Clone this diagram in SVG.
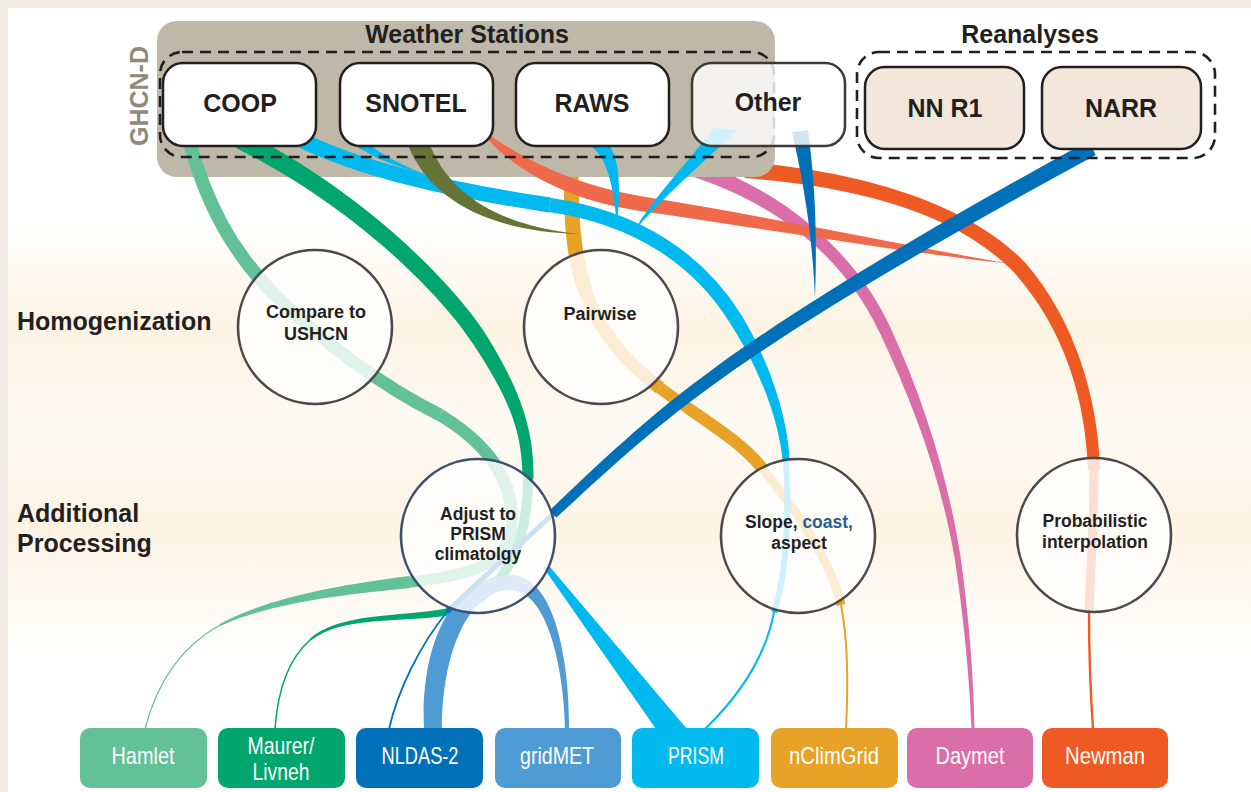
<svg xmlns="http://www.w3.org/2000/svg" width="1251" height="792" viewBox="0 0 1251 792">
<defs>
<linearGradient id="bg" gradientUnits="userSpaceOnUse" x1="0" y1="0" x2="0" y2="792">
<stop offset="0" stop-color="#ffffff"/>
<stop offset="0.28" stop-color="#ffffff"/>
<stop offset="0.415" stop-color="#fdf3e3"/>
<stop offset="0.545" stop-color="#fefaf4"/>
<stop offset="0.665" stop-color="#fdf3e3"/>
<stop offset="0.83" stop-color="#ffffff"/>
<stop offset="1" stop-color="#ffffff"/>
</linearGradient>
<style>
.hd{font-family:"Liberation Sans",Arial,sans-serif;font-weight:bold;font-size:25px;fill:#231f20;text-anchor:middle}
.lbl{font-family:"Liberation Sans",Arial,sans-serif;font-weight:bold;font-size:25px;fill:#231f20}
.st{fill:#ffffff;stroke:#231f20;stroke-width:2.5}
.re{fill:#f2e7da;stroke:#231f20;stroke-width:2.5}
.dash{fill:none;stroke:#231f20;stroke-width:2.6;stroke-dasharray:11 7}
.rib{fill:none;stroke-linecap:butt;stroke-linejoin:round}
.circ{fill:#ffffff;fill-opacity:0.8;stroke:#4a4a4a;stroke-width:2.6}
.ct{font-family:"Liberation Sans",Arial,sans-serif;font-weight:bold;font-size:17.5px;fill:#231f20;text-anchor:middle}
.bt{font-family:"Liberation Sans Narrow","Liberation Sans",Arial,sans-serif;font-size:24px;fill:#ffffff;text-anchor:middle}
</style>
</defs>

<rect x="0" y="0" width="1251" height="792" fill="#f3ece6"/>
<rect x="8" y="8" width="1243" height="784" fill="url(#bg)"/>

<g id="labels">
<text class="lbl" x="17" y="330">Homogenization</text>
<text class="lbl" x="17" y="522">Additional</text>
<text class="lbl" x="17" y="552">Processing</text>
</g>

<g id="connectors">
<path fill="#da6ea9" d="M 682.7,173.6 C 777.8,202.2 844.1,257.7 879.6,332.5 C 915,407.3 941.5,480.5 955,560.5 C 965.5,630 970,690 971.5,729 L 974.5,729 C 974,690 970.5,630 961,559.5 C 948.5,479.5 925,402.7 890.4,327.5 C 855.9,252.3 782.2,187.8 687.3,158.4 Z"/>
<path fill="#ef5a24" d="M 744.4,178 C 849.4,186 954.5,210.1 1014.5,273.1 C 1064.8,329.7 1085.5,400 1088,470 L 1100,470 C 1098.5,400 1075.2,320.3 1025.5,262.9 C 965.5,199.9 850.6,170 745.6,162 Z"/>
<path class="rib" stroke="#ef5a24" stroke-width="9" d="M 1094,470 C 1094,530 1090,580 1089,612"/>
<path class="rib" stroke="#ef5a24" stroke-width="2.4" d="M 1089,612 C 1089,660 1091,700 1093,729"/>
<g stroke="#e8a227" class="rib">
<path stroke-width="15" d="M 571,160 C 571,220 573,255 585,290"/>
<path stroke-width="13" d="M 585,290 C 600,335 630,365 660,388"/>
<path stroke-width="12" d="M 660,388 C 700,418 740,440 762,468"/>
<path stroke-width="9" d="M 762,468 C 800,515 830,560 841,605"/>
<path stroke-width="2" d="M 841,605 C 848,640 848,690 846,729"/>
</g>
</g>

<g id="weather-stations">
<rect x="157" y="21" width="618" height="156" rx="20" fill="#bdb8a7"/>
<text class="hd" x="467" y="43">Weather Stations</text>
<text class="hd" style="fill:#8e8a7c" transform="translate(148,96) rotate(-90)" x="0" y="0">GHCN-D</text>
</g>

<g id="connectors-2">
<path fill="#f0694b" d="M 476,126 C 530,165 580,185 640,196 C 760,215 900,245 1012,264 C 900,252 760,228 640,211 C 580,202 530,180 494,146 Z"/>
<path class="rib" stroke="#00b9ef" stroke-width="15" d="M 295,137 C 360,170 450,190 550,205"/>
<path class="rib" stroke="#00b9ef" stroke-width="14" d="M 550,205 C 640,218 700,262 735,318"/>
<path fill="#00b9ef" d="M 729.1,321.7 C 762.9,373.2 779.5,425.3 782.5,460.2 L 789.5,459.8 C 788.5,424.7 773.1,366.8 740.9,314.3 Z"/>
<path class="rib" stroke="#00b9ef" stroke-width="6" d="M 786,460 C 790,520 785,580 774,612"/>
<path class="rib" stroke="#00b9ef" stroke-width="2" d="M 774,612 C 765,660 735,700 705,729"/>
<path fill="#00b9ef" d="M 345,138 L 364,140 C 377,152 397,163 422,173 C 392,166 363,153 345,138 Z"/>
<path fill="#667337" d="M 408,145 C 430,200 490,232 580,234 C 500,226 450,195 430,145 Z"/>
<path fill="#00b9ef" d="M 582,142 C 605,150 612,175 617,224 C 622,180 618,150 604,140 Z"/>
<path fill="#00b9ef" d="M 714,128 C 690,160 655,195 633,232 C 665,195 700,165 738,130 Z"/>
<g stroke="#62c196" class="rib">
<path stroke-width="13.5" d="M 189,140 C 205,200 230,250 275,295"/>
<path stroke-width="13" d="M 275,295 C 320,340 380,385 440,415"/>
<path stroke-width="12.5" d="M 440,415 C 490,445 512,480 512,520"/>
<path stroke-width="11" d="M 512,520 C 512,560 480,575 410,582"/>
<path stroke-width="1.3" d="M 220,625 C 175,650 155,690 145,729"/>
</g>
<path fill="#62c196" d="M 409.3,576 C 339.4,585 268.7,597.3 219.6,624.1 L 220.4,625.9 C 271.3,602.7 340.6,595 410.7,588 Z"/>
<path fill="#00a66e" d="M 236,148 C 356,208 440.8,294.6 473.3,344.3 C 509.1,398.8 522,430 522.5,478 L 533.5,478 C 534,430 520.9,391.2 486.7,335.7 C 455.2,285.4 364,192 244,132 Z"/>
<path class="rib" stroke="#00a66e" stroke-width="10" d="M 528,478 C 528,550 500,600 447,612"/>
<path fill="#00a66e" d="M 446.4,608.5 C 399.5,617 338.7,612.5 309.3,639.2 L 310.7,640.8 C 341.3,615.5 400.5,623 447.6,615.5 Z"/>
<path class="rib" stroke="#00a66e" stroke-width="1.5" d="M 310,640 C 285,662 277,700 275,729"/>
<path fill="#4f9bd4" d="M 424,729 C 420,640 455,575 510,575 C 560,575 570,680 569,729 L 565,729 C 565,690 553,590 510,590 C 470,590 442,650 442,729 Z"/>
<path fill="#00b9ef" d="M 543,567 L 550,567 L 687,729 L 656,729 Z"/>
<path fill="#0071b9" d="M 1088.2,141 C 956.3,213.2 815.9,294.3 716.2,366.7 C 646.5,417.1 596.2,466 549.6,510.4 L 556.4,517.6 C 603.8,474 653.5,426.9 723.8,377.3 C 824.1,305.7 963.7,226.8 1095.8,155 Z"/>
<path class="rib" stroke="#0071b9" stroke-width="5" d="M 553,514 C 520,545 480,580 447,612"/>
<path class="rib" stroke="#0071b9" stroke-width="1.8" d="M 447,612 C 420,645 398,690 389,729"/>
<path fill="#0071b9" d="M 792,132 C 803,180 812,230 815,298 C 817,240 816,190 808,130 Z"/>
</g>

<rect x="160" y="52" width="614" height="105" rx="22" class="dash"/>

<g id="coop"><rect class="st" x="163" y="63" width="153" height="83" rx="20"/><text class="hd" x="240" y="112">COOP</text></g>
<g id="snotel"><rect class="st" x="340" y="63" width="153" height="83" rx="20"/><text class="hd" x="416" y="112">SNOTEL</text></g>
<g id="raws"><rect class="st" x="516" y="63" width="153" height="83" rx="20"/><text class="hd" x="592" y="112">RAWS</text></g>
<g id="other"><rect x="692" y="63" width="153" height="83" rx="20" fill="#ffffff" fill-opacity="0.82" stroke="#3a3a3a" stroke-width="2.5"/><text class="hd" x="768" y="111">Other</text></g>

<g id="reanalyses">
<text class="hd" x="1030" y="43">Reanalyses</text>
<rect x="857" y="52" width="358" height="106" rx="22" class="dash"/>
</g>
<g id="nnr1"><rect class="re" x="865" y="67" width="159" height="82" rx="20"/><text class="hd" x="945" y="117">NN R1</text></g>
<g id="narr"><rect class="re" x="1042" y="67" width="159" height="82" rx="20"/><text class="hd" x="1121" y="117">NARR</text></g>

<g id="compare"><circle class="circ" cx="315" cy="327" r="77"/><text class="ct" style="font-size:18px" x="316" y="318">Compare to</text><text class="ct" style="font-size:18px" x="316" y="340">USHCN</text></g>
<g id="pairwise"><circle class="circ" cx="601" cy="327" r="77"/><text class="ct" style="font-size:18px" x="600" y="320">Pairwise</text></g>
<g id="adjust"><circle class="circ" cx="478" cy="536" r="77" style="stroke:#3e5169"/><text class="ct" x="478" y="520">Adjust to</text><text class="ct" x="478" y="540">PRISM</text><text class="ct" x="478" y="560">climatolgy</text></g>
<g id="slope"><circle class="circ" cx="798" cy="536" r="77"/><text class="ct" x="799" y="528">Slope, <tspan style="fill:#2c5f8a">coast,</tspan></text><text class="ct" x="799" y="549">aspect</text></g>
<g id="prob"><circle class="circ" cx="1094" cy="535" r="77"/><text class="ct" x="1095" y="527">Probabilistic</text><text class="ct" x="1095" y="548">interpolation</text></g>

<g id="hamlet"><rect x="80" y="728" width="127" height="60" rx="10" fill="#62c196"/><text class="bt" x="143" y="764" textLength="63" lengthAdjust="spacingAndGlyphs">Hamlet</text></g>
<g id="maurer"><rect x="218" y="728" width="127" height="60" rx="10" fill="#00a66e"/><text class="bt" x="281" y="754" textLength="67" lengthAdjust="spacingAndGlyphs">Maurer/</text><text class="bt" x="281" y="780" textLength="57" lengthAdjust="spacingAndGlyphs">Livneh</text></g>
<g id="nldas"><rect x="356" y="728" width="127" height="60" rx="10" fill="#0071b9"/><text class="bt" x="420" y="764" textLength="77" lengthAdjust="spacingAndGlyphs">NLDAS-2</text></g>
<g id="gridmet"><rect x="495" y="728" width="126" height="60" rx="10" fill="#4f9bd4"/><text class="bt" x="557" y="764" textLength="74" lengthAdjust="spacingAndGlyphs">gridMET</text></g>
<g id="prism"><rect x="632" y="728" width="127" height="60" rx="10" fill="#00b9ef"/><text class="bt" x="696" y="764" textLength="56" lengthAdjust="spacingAndGlyphs">PRISM</text></g>
<g id="nclimgrid"><rect x="771" y="728" width="127" height="60" rx="10" fill="#e8a227"/><text class="bt" x="834" y="764" textLength="90" lengthAdjust="spacingAndGlyphs">nClimGrid</text></g>
<g id="daymet"><rect x="907" y="728" width="126" height="60" rx="10" fill="#da6ea9"/><text class="bt" x="970" y="764" textLength="69" lengthAdjust="spacingAndGlyphs">Daymet</text></g>
<g id="newman"><rect x="1042" y="728" width="126" height="60" rx="10" fill="#ef5a24"/><text class="bt" x="1105" y="764" textLength="80" lengthAdjust="spacingAndGlyphs">Newman</text></g>
</svg>
